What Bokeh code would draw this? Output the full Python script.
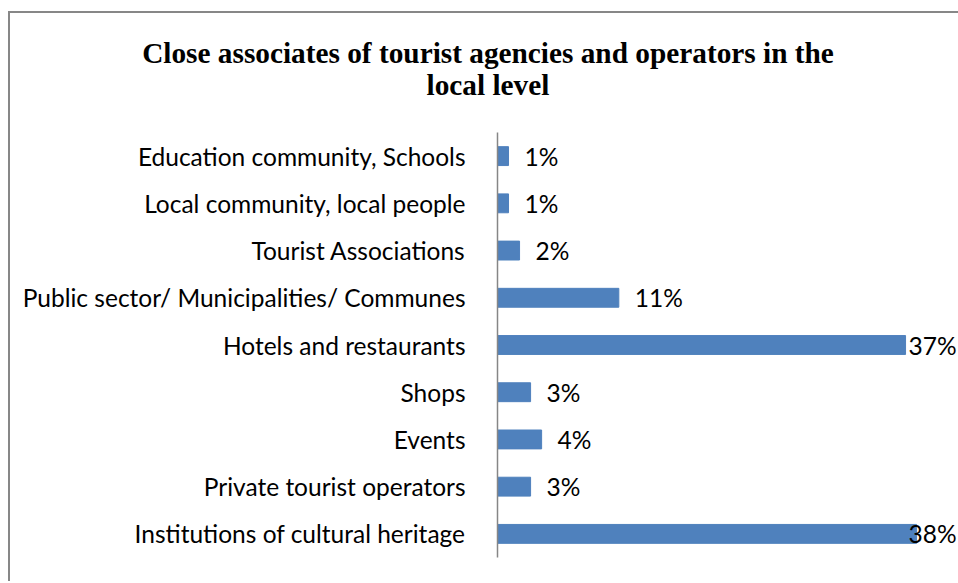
from bokeh.plotting import figure
from bokeh.models import FactorRange, Range1d, ColumnDataSource, Div
from bokeh.layouts import column
from bokeh.embed import file_html
from bokeh.resources import INLINE
from bokeh.core.properties import value

categories = [
    "Education community, Schools",
    "Local community, local people",
    "Tourist Associations",
    "Public sector/ Municipalities/ Communes",
    "Hotels and restaurants",
    "Shops",
    "Events",
    "Private tourist operators",
    "Institutions of cultural heritage",
]
values = [1, 1, 2, 11, 37, 3, 4, 3, 38]
value_labels = [f"{v}%" for v in values]
title_line1 = "Close associates of tourist agencies and operators in the"
title_line2 = "local level"

W = 948
TITLE_H = 119
H = 449
ML, MB = 487, 24
XMAX = 41.8
scale = (W - ML) / XMAX
FONT = "Lato"
LBL_SIZE = "24.5px"

label_x = [min(v + 16 / scale, XMAX - 50 / scale) for v in values]

src = ColumnDataSource(dict(cat=categories, val=values, lab=value_labels, lx=label_x))

title_div = Div(
    text=(f'<div style="display:block; width:940px; text-align:center; margin-left:8px; padding-top:24px; '
          f'font-family:\'Liberation Serif\'; font-weight:bold; font-size:29.3px; '
          f'line-height:32px; color:black;">{title_line1}<br>{title_line2}</div>'),
    width=W, height=TITLE_H, margin=0,
    styles={"background-color": "white"},
)

p = figure(width=W, height=H,
           y_range=FactorRange(*reversed(categories), range_padding=0),
           x_range=Range1d(0, XMAX),
           output_backend="svg", toolbar_location=None, title=None,
           min_border_left=ML, min_border_right=0, min_border_top=0, min_border_bottom=MB)

p.hbar(y="cat", left=0, right="val", height=0.4, source=src,
       fill_color="#4F81BD", line_color="#4F81BD")
p.text(x="lx", y="cat", text="lab", source=src, text_baseline="middle",
       text_align="left", text_font=value(FONT), text_font_size=LBL_SIZE, text_color="black")

p.xaxis.visible = False
p.xgrid.visible = False
p.ygrid.visible = False
p.outline_line_color = None
p.yaxis.axis_line_color = "#868686"
p.yaxis.axis_line_width = 1.5
p.yaxis.major_tick_line_color = None
p.yaxis.minor_tick_line_color = None
p.yaxis.major_label_text_font = FONT
p.yaxis.major_label_text_font_size = LBL_SIZE
p.yaxis.major_label_text_color = "black"
p.yaxis.major_label_standoff = 26
p.background_fill_color = "white"
p.border_fill_color = "white"

layout = column(title_div, p, spacing=0)
layout.styles = {"border-left": "2px solid #878787", "border-top": "2px solid #878787",
                 "margin-top": "11px", "margin-left": "8px", "background-color": "white"}

open("out.html", "w").write(file_html(layout, INLINE))
